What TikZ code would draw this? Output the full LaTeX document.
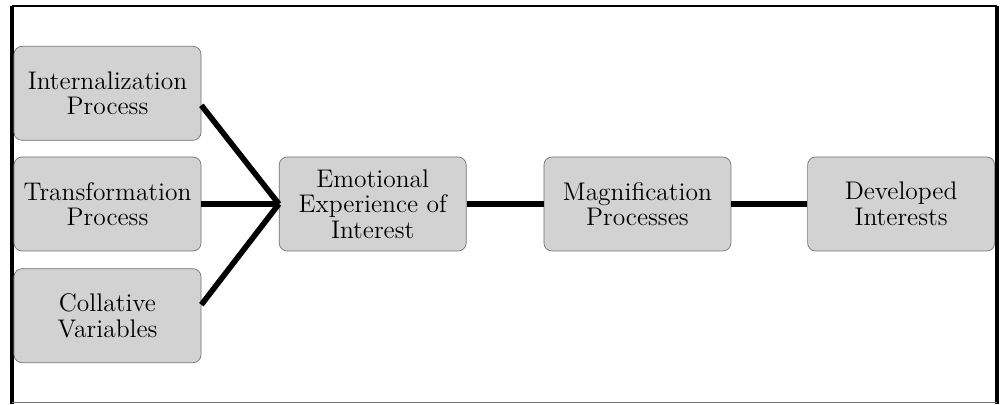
\documentclass[tikz,border=0pt]{standalone}
\usepackage{tikz}
\usetikzlibrary{positioning}
\definecolor{boxgray}{RGB}{210,210,210}
\definecolor{edgegray}{RGB}{115,115,115}

\begin{document}
\begin{tikzpicture}[node distance=1.55cm,
  every node/.style={font=\fontsize{14.5}{14.6}\selectfont},
  stage/.style={draw=edgegray, fill=boxgray, rounded corners=0.16cm, align=center, minimum width=3.74cm, minimum height=1.88cm, inner sep=2pt},
  link/.style={line width=3.2pt}]
\useasboundingbox (0,0) rectangle (20.12,8.08);
% outer frame
\draw[line width=1.1pt] (0.24,7.96) -- (19.94,7.96);
\draw[line width=1.8pt] (0.24,7.96) -- (0.24,0);
\draw[line width=2pt] (19.94,7.96) -- (19.94,0);
\draw[edgegray, line width=0.6pt] (0.24,0.03) -- (19.94,0.03);
% stages
\node[stage] (trans) at (2.15,4.0) {Transformation\\Process};
\node[stage, above=0.32cm of trans] (intern) {Internalization\\Process};
\node[stage, below=0.34cm of trans] (coll) {Collative\\Variables};
\node[stage, right=of trans] (emo) {Emotional\\Experience of\\Interest};
\node[stage, right=1.54cm of emo] (magn) {Magnification\\Processes};
\node[stage, right=1.52cm of magn] (devel) {Developed\\Interests};
% links
\draw[link] ([yshift=-0.24cm]intern.east) -- (emo.west);
\draw[link] (trans.east) -- (emo.west);
\draw[link] ([yshift=0.22cm]coll.east) -- (emo.west);
\draw[link] (emo) -- (magn);
\draw[link] (magn) -- (devel);
\end{tikzpicture}
\end{document}
